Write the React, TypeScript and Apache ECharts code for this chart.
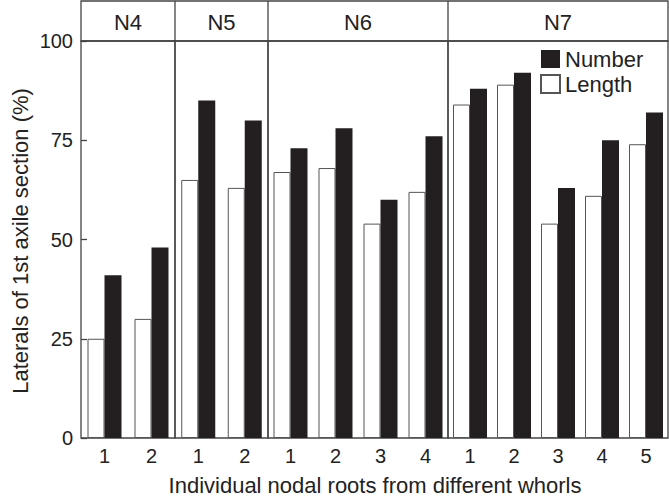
import React, { useEffect, useRef } from "react";
import * as echarts from "echarts";

const groups = ["N4", "N5", "N6", "N7"];
const groupCategories = [
  ["1", "2"],
  ["1", "2"],
  ["1", "2", "3", "4"],
  ["1", "2", "3", "4", "5"],
];
const lengthValues = [25, 30, 65, 63, 67, 68, 54, 62, 84, 89, 54, 61, 74];
const numberValues = [41, 48, 85, 80, 73, 78, 60, 76, 88, 92, 63, 75, 82];
const yTicks = [0, 25, 50, 75, 100];
const yTitle = "Laterals of 1st axile section (%)";
const xTitle = "Individual nodal roots from different whorls";

const W = 669;
const H = 498;
const edges = [81, 175, 268, 448, 668];
const plotTop = 41;
const plotBottom = 438;
const headerTop = 1;
const lineColor = "#444";
const textColor = "#222";
const barDark = "#231f20";
const font = "'Liberation Sans', Arial, sans-serif";

export default function App() {
  const ref = useRef<HTMLDivElement>(null);
  useEffect(() => {
    if (!ref.current) return;
    const chart = echarts.init(ref.current, undefined, { renderer: "svg" });
    const grids: any[] = [];
    const xAxes: any[] = [];
    const yAxes: any[] = [];
    const series: any[] = [];
    const graphics: any[] = [];
    let offset = 0;
    groups.forEach((g, i) => {
      const cats = groupCategories[i];
      grids.push({
        left: edges[i],
        width: edges[i + 1] - edges[i],
        top: plotTop,
        height: plotBottom - plotTop,
        show: true,
        borderColor: lineColor,
        borderWidth: 1.3,
        backgroundColor: "transparent",
      });
      xAxes.push({
        type: "category",
        gridIndex: i,
        data: cats,
        axisLine: { show: false },
        axisTick: { show: false },
        axisLabel: { fontSize: 20, color: textColor, fontFamily: font, margin: 8 },
        splitLine: { show: false },
      });
      yAxes.push({
        type: "value",
        gridIndex: i,
        min: yTicks[0],
        max: yTicks[yTicks.length - 1],
        interval: 25,
        show: i === 0,
        axisLine: { show: false },
        axisTick: { show: true, inside: true, length: 6, lineStyle: { color: lineColor, width: 1.3 } },
        axisLabel: { fontSize: 20, color: textColor, fontFamily: font, margin: 8 },
        splitLine: { show: false },
      });
      const lv = lengthValues.slice(offset, offset + cats.length);
      const nv = numberValues.slice(offset, offset + cats.length);
      offset += cats.length;
      series.push({
        name: "Length",
        type: "bar",
        xAxisIndex: i,
        yAxisIndex: i,
        data: lv,
        barWidth: 17,
        barGap: "0%",
        itemStyle: { color: "#ffffff", borderColor: "#555", borderWidth: 1 },
      });
      series.push({
        name: "Number",
        type: "bar",
        xAxisIndex: i,
        yAxisIndex: i,
        data: nv,
        barWidth: 17,
        barGap: "0%",
        itemStyle: { color: barDark, borderColor: barDark, borderWidth: 0 },
      });
      if (i > 0) {
        graphics.push({
          type: "line",
          shape: { x1: edges[i], y1: headerTop, x2: edges[i], y2: plotTop },
          style: { stroke: lineColor, lineWidth: 1.3 },
        });
      }
      graphics.push({
        type: "text",
        x: (edges[i] + edges[i + 1]) / 2,
        y: (headerTop + plotTop) / 2 + 1,
        style: {
          text: g,
          fontSize: 22,
          fontFamily: font,
          fill: textColor,
          align: "center",
          verticalAlign: "middle",
        },
      });
    });
    graphics.unshift({
      type: "rect",
      shape: { x: edges[0], y: headerTop, width: edges[4] - edges[0], height: plotTop - headerTop },
      style: { fill: "none", stroke: lineColor, lineWidth: 1.3 },
    });
    graphics.push({
      type: "text",
      x: 20,
      y: 241,
      rotation: Math.PI / 2,
      style: {
        text: yTitle,
        fontSize: 22,
        fontFamily: font,
        fill: textColor,
        align: "center",
        verticalAlign: "middle",
      },
    });
    graphics.push({
      type: "text",
      x: 375,
      y: 485,
      style: {
        text: xTitle,
        fontSize: 22,
        fontFamily: font,
        fill: textColor,
        align: "center",
        verticalAlign: "middle",
      },
    });
    chart.setOption({
      animation: false,
      backgroundColor: "#ffffff",
      grid: grids,
      xAxis: xAxes,
      yAxis: yAxes,
      series,
      legend: {
        data: ["Number", "Length"],
        orient: "vertical",
        left: 540,
        top: 48,
        itemWidth: 19,
        itemHeight: 18,
        itemGap: 3,
        icon: "rect",
        padding: 0,
        textStyle: { fontSize: 22, color: textColor, fontFamily: font },
      },
      graphic: graphics,
    });
    return () => chart.dispose();
  }, []);
  return (
    <div
      ref={ref}
      style={{ position: "fixed", left: 0, top: 0, width: W, height: H, background: "#fff" }}
    />
  );
}
